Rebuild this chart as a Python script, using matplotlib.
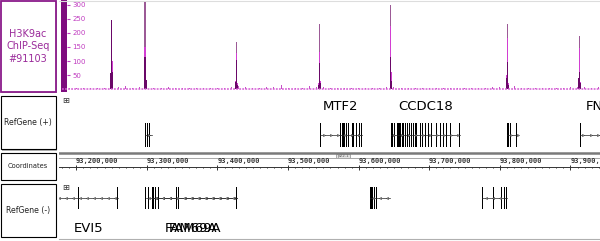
import numpy as np
import matplotlib
matplotlib.use("Agg")
import matplotlib.pyplot as plt
from matplotlib.patches import Rectangle

# visible window on chr1 (bp)
view_start = 93_175_500
view_end = 93_941_800

# H3K9ac signal, background level every 10 kb
bg_start = 93_180_000
bg_step = 10_000
bg_values = [0, 3, 3, 4, 3, 4, 5, 8, 6, 12, 5, 6, 10, 5, 4, 6, 5, 4, 3, 3,
             4, 3, 4, 4, 6, 10, 6, 5, 4, 6, 8, 14, 5, 4, 5, 10, 6, 8, 5, 4,
             4, 3, 3, 4, 4, 5, 6, 8, 5, 4, 3, 4, 3, 4, 3, 4, 5, 4, 5, 4,
             5, 6, 8, 10, 12, 5, 4, 3, 4, 3, 4, 5, 6, 8, 6, 5, 6]

# peak bins: max / mean / min windowed values
peak_pos = [93_248_700, 93_250_100, 93_251_500,
            93_297_300, 93_298_700,
            93_425_800, 93_427_200, 93_428_600,
            93_542_800, 93_544_200, 93_545_600,
            93_644_800, 93_646_200,
            93_809_100, 93_810_500, 93_811_900,
            93_911_100, 93_912_500, 93_913_900]
peak_max = [57, 248, 100, 312, 32, 30, 169, 20, 20, 232, 30,
            300, 60, 50, 232, 20, 40, 189, 25]
peak_mid = [57, 248, 100, 150, 32, 30, 128, 20, 20, 132, 30,
            225, 60, 50, 182, 20, 40, 146, 25]
peak_low = [57, 248, 60, 114, 32, 25, 104, 15, 15, 93, 20,
            114, 30, 40, 96, 15, 40, 60, 20]

y_ticks = [50, 100, 150, 200, 250, 300]

# RefGene (+) transcripts: exons as (start, end)
geneA_exons = [(93_298_000, 93_298_400), (93_300_100, 93_300_900),
               (93_303_000, 93_303_800), (93_307_000, 93_307_500)]
mtf2_exons = [(93_545_200, 93_545_500), (93_574_500, 93_574_900),
              (93_576_300, 93_576_700), (93_578_200, 93_578_600),
              (93_579_200, 93_579_600), (93_582_000, 93_582_400),
              (93_584_800, 93_585_200), (93_590_500, 93_590_900),
              (93_592_300, 93_592_700), (93_597_200, 93_597_600),
              (93_600_800, 93_601_200), (93_603_000, 93_604_600)]
ccdc18_starts = [93_645_700, 93_648_200, 93_650_000, 93_654_200, 93_655_700,
                 93_657_100, 93_658_500, 93_661_300, 93_663_200, 93_666_000,
                 93_668_800, 93_671_700, 93_674_500, 93_677_300, 93_680_200,
                 93_682_100, 93_686_800, 93_689_700, 93_694_300, 93_698_600,
                 93_703_400, 93_709_500, 93_716_100, 93_719_800, 93_724_600,
                 93_730_300, 93_742_500]
ccdc18_exons = [(s, s + 450) for s in ccdc18_starts]
geneD_exons = [(93_810_500, 93_810_900), (93_812_400, 93_812_800),
               (93_815_300, 93_815_700), (93_823_800, 93_824_200),
               (93_825_400, 93_826_000)]
fnbp1l_exons = [(93_913_400, 93_913_800), (93_965_000, 93_965_500)]

plus_genes = [("", 93_298_000, 93_307_500, geneA_exons),
              ("MTF2", 93_545_200, 93_604_600, mtf2_exons),
              ("CCDC18", 93_645_700, 93_742_950, ccdc18_exons),
              ("", 93_810_500, 93_826_000, geneD_exons),
              ("FNBP1L", 93_913_400, 94_000_000, fnbp1l_exons)]

# RefGene (-) transcripts
evi5_exons = [(93_100_000, 93_100_500), (93_202_800, 93_203_400),
              (93_258_400, 93_258_900)]
fam69a_1_exons = [(93_298_300, 93_298_700), (93_302_000, 93_302_400),
                  (93_307_600, 93_308_000), (93_309_600, 93_310_000),
                  (93_311_500, 93_311_900), (93_316_100, 93_316_500),
                  (93_342_200, 93_342_700), (93_344_500, 93_344_800),
                  (93_427_000, 93_427_500)]
fam69a_2_exons = [(93_307_600, 93_308_000), (93_309_600, 93_310_000),
                  (93_311_500, 93_311_900), (93_316_100, 93_316_500),
                  (93_342_200, 93_342_700), (93_427_000, 93_427_500)]
geneE_exons = [(93_615_800, 93_616_400), (93_616_900, 93_617_400),
               (93_617_900, 93_618_400), (93_618_900, 93_619_400),
               (93_620_000, 93_620_500), (93_622_100, 93_622_500),
               (93_624_500, 93_624_900), (93_644_100, 93_644_500)]
geneF_exons = [(93_775_100, 93_775_400), (93_789_900, 93_791_800),
               (93_802_500, 93_802_900), (93_805_800, 93_806_200),
               (93_809_400, 93_809_900)]

minus_genes = [("EVI5", 93_020_000, 93_258_900, evi5_exons),
               ("FAM69A", 93_298_300, 93_427_500, fam69a_1_exons),
               ("FAM69A", 93_307_600, 93_427_500, fam69a_2_exons),
               ("", 93_615_800, 93_644_500, geneE_exons),
               ("", 93_775_100, 93_809_900, geneF_exons)]

W, H = 600, 241
purple = "#8a1a8a"
magenta_txt = "#c03cc0"
min_exon = 1300  # about one pixel at this zoom


def fig_rect(x0, y0, x1, y1):
    # pixel box (y down) -> figure fraction
    return [x0 / W, 1 - y1 / H, (x1 - x0) / W, (y1 - y0) / H]


fig = plt.figure(figsize=(W / 100, H / 100), dpi=100)

# page layer in pixels for the track headers
bg = fig.add_axes([0, 0, 1, 1])
bg.set_xlim(0, W)
bg.set_ylim(H, 0)
bg.axis("off")


def header(y0, y1, text, edge, color, size, lw=0.8):
    bg.add_patch(Rectangle((2, y0 + 1.5), 55, y1 - y0, fc="#b5b5b5", ec="none"))
    bg.add_patch(Rectangle((0.5, y0), 55, y1 - y0, fc="white", ec=edge, lw=lw))
    bg.text(28, (y0 + y1) / 2, text, ha="center", va="center", color=color,
            fontsize=size, linespacing=1.3)


header(0.8, 91.5, "H3K9ac\nChIP-Seq\n#91103", purple, "#9a2a9a", 7, lw=1.3)
header(96, 149, "RefGene (+)", "black", "#222222", 5.6)
header(153, 179.5, "Coordinates", "black", "#222222", 4.8)
header(184, 236.5, "RefGene (-)", "black", "#222222", 5.6)

# track colour bar and misc frame lines
bg.add_patch(Rectangle((61, 0), 5.8, 92, fc="#7e0c7e", ec="none"))
bg.plot([59, 600], [0.8, 0.8], color="#dddddd", lw=0.8)
bg.plot([59, 600], [238.5, 238.5], color="#b0b0b0", lw=0.8)
for yy in (100.5, 187):
    bg.text(66, yy, "\u229e", ha="center", va="center", fontsize=6, color="#333333")

# ---- signal track ----
sig = fig.add_axes(fig_rect(59, 1, 600, 91))
sig.set_facecolor("none")
sig.set_xlim(view_start, view_end)
sig.set_ylim(-7, 314)
bg_x = bg_start + bg_step * np.arange(len(bg_values))
sig.plot([bg_start, view_end], [-1, -1], color="#d45cd4", lw=1.1,
         ls=(0, (1.2, 0.8)))
sig.bar(bg_x, bg_values, width=1400, bottom=0, color="#c64fc6", lw=0)
sig.bar(peak_pos, peak_max, width=1900, color="#9c5a96", lw=0)
sig.bar(peak_pos, peak_mid, width=1900, color="#d23ed2", lw=0)
sig.bar(peak_pos, peak_low, width=1900, color="#6a0868", lw=0)
for s in sig.spines.values():
    s.set_visible(False)
sig.spines["left"].set_position(("outward", -5.8))
sig.set_xticks([])
sig.set_yticks(y_ticks)
sig.tick_params(axis="y", direction="in", length=2.2, width=0.8,
                color=magenta_txt, labelcolor=magenta_txt, labelsize=5, pad=-4)
for lab in sig.get_yticklabels():
    lab.set_ha("left")


# ---- gene tracks ----
def draw_genes(ax, genes, mid, half, label_y, marker):
    for name, start, end, exons in genes:
        ax.plot([start, end], [mid, mid], color="#222222", lw=0.5)
        step = 10_000
        marks = np.arange(start + step / 2, end, step)
        ax.plot(marks, np.full(len(marks), mid), ls="none", marker=marker,
                ms=1.5, mfc="white", mec="#222222", mew=0.4)
        for a, b in exons:
            w = max(b - a, min_exon)
            ax.add_patch(Rectangle(((a + b) / 2 - w / 2, mid - half), w, 2 * half,
                                   fc="black", ec="none"))
        if name:
            lo, hi = max(start, view_start), min(end, view_end)
            cx = (lo + hi) / 2 if end <= view_end else (start + end) / 2
            ax.text(cx, label_y, name, ha="center", va="center",
                    fontsize=9.5, color="black", clip_on=True)


plus_ax = fig.add_axes(fig_rect(59, 95, 600, 150))
plus_ax.set_facecolor("none")
plus_ax.set_xlim(view_start, view_end)
plus_ax.set_ylim(55, 0)
plus_ax.axis("off")
draw_genes(plus_ax, plus_genes, 40, 12, 11.5, ">")

minus_ax = fig.add_axes(fig_rect(59, 183, 600, 238))
minus_ax.set_facecolor("none")
minus_ax.set_xlim(view_start, view_end)
minus_ax.set_ylim(55, 0)
minus_ax.axis("off")
draw_genes(minus_ax, minus_genes, 15, 11.3, 45.5, "<")

# ---- coordinate ruler ----
coord = fig.add_axes(fig_rect(59, 151, 600, 181))
coord.set_facecolor("none")
coord.set_xlim(view_start, view_end)
coord.set_ylim(30, 0)
coord.axis("off")
coord.axhline(1.5, color="#7a7a7a", lw=1.8)
coord.axhline(6.5, color="#a8a8a8", lw=0.7)
coord.axhline(15.5, color="#333333", lw=0.7)
minor = np.arange(93_180_000, view_end, 10_000)
major = np.arange(93_200_000, view_end, 100_000)
coord.vlines(minor, 15.5, 17.3, color="#333333", lw=0.7)
coord.vlines(major, 14, 19, color="#333333", lw=0.7)
for t in major:
    coord.text(t - 300, 10.5, f"{t:,}", ha="left", va="center", fontsize=5,
               family="DejaVu Sans Mono", weight="bold", color="#333333",
               clip_on=True)
bg.add_patch(Rectangle((336, 153.5), 14, 4.5, fc="#e4e4e4", ec="#8c8c8c", lw=0.5))
bg.text(343, 155.8, "p22.1", ha="center", va="center", fontsize=3, color="#555555")

fig.savefig("out.png", dpi=100)
